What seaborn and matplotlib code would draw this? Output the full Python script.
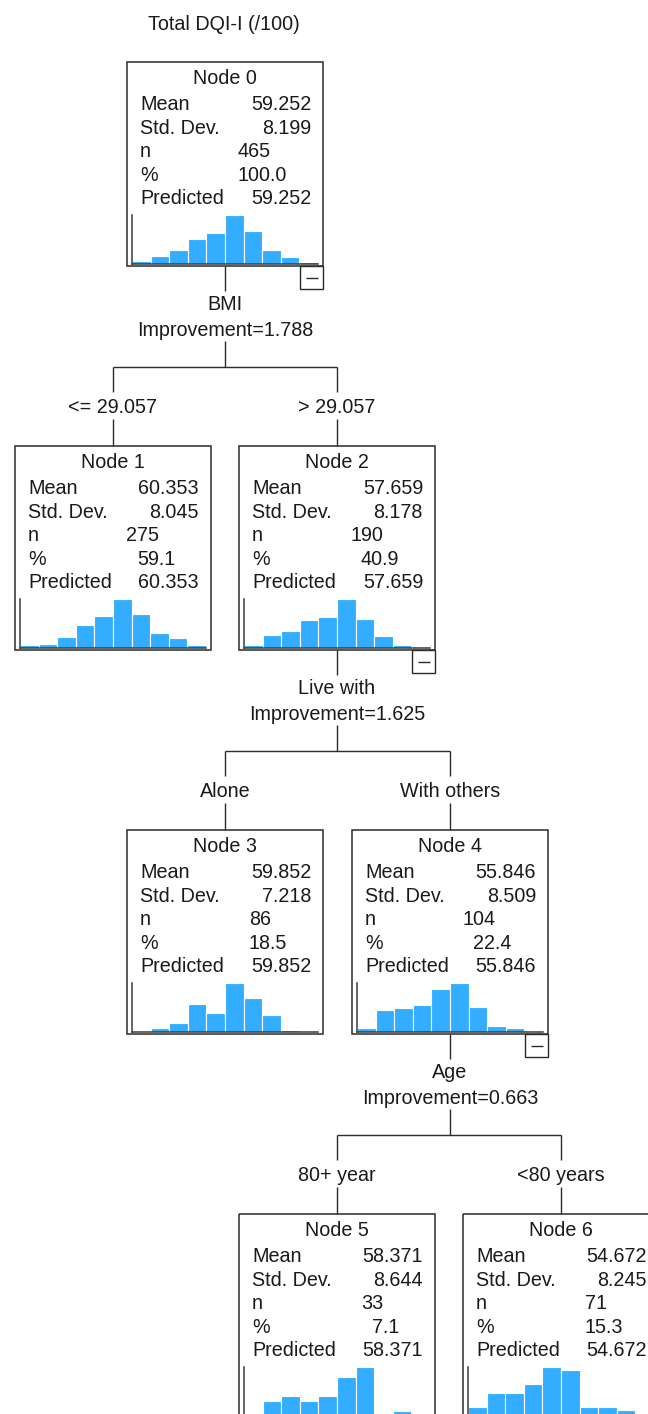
import matplotlib
matplotlib.use("Agg")
import matplotlib.pyplot as plt
from matplotlib.patches import Rectangle
import seaborn as sns
import pandas as pd

sns.set_theme(style="white")
plt.rcParams["font.family"] = ["Liberation Sans", "DejaVu Sans"]

# ---- tree content -------------------------------------------------------
title = "Total DQI-I (/100)"
node_ids = [0, 1, 2, 3, 4, 5, 6]
node_means = [59.252, 60.353, 57.659, 59.852, 55.846, 58.371, 54.672]
node_sds = [8.199, 8.045, 8.178, 7.218, 8.509, 8.644, 8.245]
node_ns = [465, 275, 190, 86, 104, 33, 71]
node_pcts = [100.0, 59.1, 40.9, 18.5, 22.4, 7.1, 15.3]
node_predicted = [59.252, 60.353, 57.659, 59.852, 55.846, 58.371, 54.672]

# histogram counts over the 10 common score bins of each node
hist_node0 = [7, 20, 35, 63, 78, 122, 81, 35, 18, 6]
hist_node1 = [4, 6, 17, 35, 48, 73, 51, 22, 15, 4]
hist_node2 = [3, 13, 17, 29, 32, 50, 30, 12, 3, 1]
hist_node3 = [0, 2, 5, 15, 10, 26, 18, 9, 1, 0]
hist_node4 = [2, 11, 12, 14, 22, 25, 13, 3, 2, 0]
hist_node5 = [0, 3, 4, 3, 4, 8, 10, 0, 1, 0]
hist_node6 = [3, 8, 8, 11, 17, 16, 3, 3, 2, 0]
hist_counts = [hist_node0, hist_node1, hist_node2, hist_node3,
               hist_node4, hist_node5, hist_node6]

# splits: parent node -> (left child, right child)
split_parents = [0, 2, 4]
split_children = [(1, 2), (3, 4), (5, 6)]
split_vars = ["BMI", "Live with", "Age"]
split_improvements = [1.788, 1.625, 0.663]
branch_labels = [("<= 29.057", "> 29.057"), ("Alone", "With others"),
                 ("80+ year", "<80 years")]

# ---- layout (pixels) ----------------------------------------------------
W, H = 648, 1414
BOX_W, BOX_H = 196, 204
node_left = [127, 15, 239, 127, 352, 239, 463]
node_top = [62, 446, 446, 830, 830, 1214, 1214]

FS = 14.2
INK = "#1a1a1a"
LINE = "#2b2b2b"
BAR = "#33adff"

fig = plt.figure(figsize=(W / 100, H / 100), dpi=100)
canvas = fig.add_axes([0, 0, 1, 1])
canvas.set_xlim(0, W)
canvas.set_ylim(H, 0)
canvas.axis("off")


def px_axes(x, y, w, h):
    return fig.add_axes([x / W, 1 - (y + h) / H, w / W, h / H])


def label(x, y, s, ha="center"):
    canvas.text(x, y, s, ha=ha, va="baseline", fontsize=FS, color=INK)


def seg(x0, y0, x1, y1):
    canvas.plot([x0, x1], [y0, y1], color=LINE, lw=1.0, solid_capstyle="butt")


label(224, 30, title)

for i in node_ids:
    x0, y0 = node_left[i], node_top[i]
    cx = x0 + BOX_W / 2
    canvas.add_patch(Rectangle((x0, y0), BOX_W, BOX_H, fill=False,
                               edgecolor=LINE, lw=1.1))
    label(cx, y0 + 22, f"Node {i}")
    rows = [("Mean", f"{node_means[i]:.3f}", 0),
            ("Std. Dev.", f"{node_sds[i]:.3f}", 0),
            ("n", f"{node_ns[i]}", 40),
            ("%", f"{node_pcts[i]:.1f}", 24),
            ("Predicted", f"{node_predicted[i]:.3f}", 0)]
    for r, (name, val, shift) in enumerate(rows):
        yb = y0 + 48.5 + 23.4 * r
        label(x0 + 13, yb, name, ha="left")
        label(x0 + 184 - shift, yb, val, ha="right")

    # node histogram
    ax = px_axes(x0 + 5, y0 + 153, 186, 49)
    df = pd.DataFrame({"bin": list(range(10)), "count": hist_counts[i]})
    sns.barplot(data=df, x="bin", y="count", color=BAR, saturation=1,
                width=1.0, edgecolor="white", linewidth=0.8, ax=ax)
    ax.set_xlim(-0.5, 9.5)
    ax.set_ylim(0, max(hist_counts[i]))
    ax.set_xticks([])
    ax.set_yticks([])
    ax.set_xlabel("")
    ax.set_ylabel("")
    ax.set_facecolor("none")
    for side in ("top", "right"):
        ax.spines[side].set_visible(False)
    for side in ("left", "bottom"):
        ax.spines[side].set_color("#3c3c3c")
        ax.spines[side].set_linewidth(1.1)
        ax.spines[side].set_zorder(5)

# splits and branch connectors
for p, (lc, rc), var, imp, (ll, rl) in zip(split_parents, split_children,
                                            split_vars, split_improvements,
                                            branch_labels):
    px = node_left[p] + BOX_W / 2
    B = node_top[p] + BOX_H
    right = node_left[p] + BOX_W
    # collapse toggle
    canvas.add_patch(Rectangle((right - 23, B), 23, 23, fill=False,
                               edgecolor=LINE, lw=1.0))
    seg(right - 17.5, B + 11.5, right - 5.5, B + 11.5)

    seg(px, B, px, B + 25)
    label(px, B + 44.5, var)
    label(px, B + 70, f"Improvement={imp:.3f}")
    seg(px, B + 75, px, B + 101)
    lx = node_left[lc] + BOX_W / 2
    rx = node_left[rc] + BOX_W / 2
    seg(lx, B + 101, rx, B + 101)
    for cx, txt in ((lx, ll), (rx, rl)):
        seg(cx, B + 101, cx, B + 126)
        label(cx, B + 147, txt)
        seg(cx, B + 153, cx, B + 180)

fig.savefig("out.png", dpi=100, facecolor="white")
